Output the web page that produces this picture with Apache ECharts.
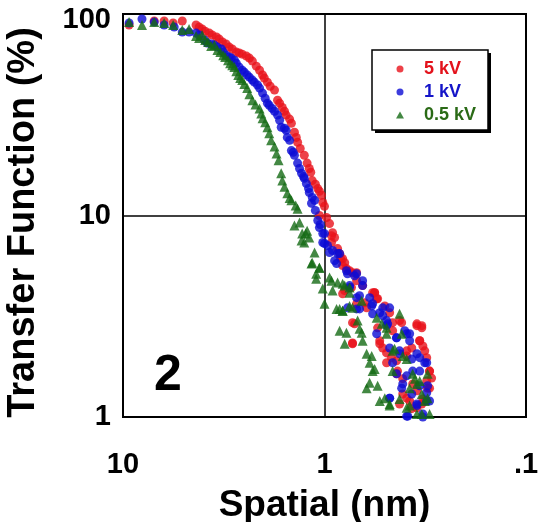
<!DOCTYPE html>
<html>
<head>
<meta charset="utf-8">
<script src="https://cdn.jsdelivr.net/npm/echarts@6/dist/echarts.min.js"></script>
<style>
html,body{margin:0;padding:0;background:#fff;}
#chart{width:541px;height:522px;}
</style>
</head>
<body>
<div id="chart"></div>
<script>
// ---- data (Spatial in nm, Transfer Function in %) ----
const seriesNames = ['5 kV', '1 kV', '0.5 kV'];
const xTickLabels = ['10', '1', '.1'];
const yTickLabels = ['1', '10', '100'];

const x5kV = [9.33,7.0,6.25,5.64,5.08,4.34,4.05,3.73,3.44,3.21,2.97,2.74,2.56,2.36,2.18,2.03,1.92,1.77,1.71,1.62,1.55,1.46,1.41,1.36,1.26,1.22,1.17,1.15,1.08,1.035,1.02,1.06,0.977,0.944,0.912,0.923,0.861,0.841,0.794,0.778,0.726,0.693,0.647,0.564,0.551,0.693,0.618,0.475,0.424,0.348,0.329,0.459,0.726,0.532,0.514,0.337,0.325,0.391,0.311,0.492,0.301,0.439,0.294,0.365,0.308,0.409,0.378,0.318,0.348,
  4.19,3.91,3.61,3.33,3.08,2.87,2.65,2.44,2.28,2.10,1.99,1.86,1.67,1.58,1.49,1.38,1.32,1.19,1.11,1.06,1.0,0.891,0.813,0.751,
  0.813,0.709,0.726,0.577,0.545,0.459,0.414,0.348,0.329,0.532,0.492,0.465,0.439,0.391,0.369,0.337,0.318,0.301,0.434,0.409,0.311,0.301,0.348,0.391,0.424,0.329,0.325,0.369,
  0.923,0.832,0.813,0.693,0.735,0.564,0.545,0.794,0.632,0.726,0.502];
const y5kV = [88.2,92.3,92.3,90.2,92.3,88.2,84.2,80.4,76.9,72.6,68.5,64.7,63.2,60.4,55.1,49.8,45.9,41.9,37.3,34.4,31.5,28.7,25.9,23.1,19.9,18.2,16.4,14.9,13.6,12.6,11.6,10.0,9.77,9.12,8.22,7.35,6.85,6.47,5.83,5.45,5.20,4.75,4.49,4.14,3.86,3.65,3.48,3.29,3.01,2.84,2.77,2.68,2.31,2.39,2.20,2.39,2.25,2.13,1.97,1.86,1.69,1.64,1.56,1.46,1.39,1.30,1.20,1.20,1.11,
  86.1,82.2,78.7,75.1,71.0,67.0,64.0,61.8,58.4,52.6,48.1,43.8,36.1,32.9,30.1,24.4,21.5,17.1,14.3,13.2,11.1,7.78,6.11,5.32,
  4.09,2.90,2.33,4.14,2.77,2.94,2.94,2.90,2.84,2.31,2.08,1.97,1.90,2.01,2.20,2.39,2.13,1.69,1.69,1.55,1.51,1.39,1.35,1.24,1.16,1.16,1.23,1.10,
  7.94,6.11,5.64,5.20,4.39,4.14,3.86,4.24,3.69,2.94,3.56];

const x1kV = [9.33,8.05,7.0,6.25,5.57,5.08,4.70,4.34,4.19,3.82,3.52,3.25,3.08,2.90,2.80,2.65,2.50,2.36,2.23,2.10,2.03,1.92,1.82,1.71,1.64,1.55,1.53,1.46,1.41,1.36,1.30,1.26,1.23,1.19,1.15,1.16,1.08,1.06,1.00,1.02,0.966,0.912,0.861,0.871,0.769,0.709,0.751,0.647,0.597,0.514,0.769,0.693,0.577,0.492,0.551,0.439,0.391,0.378,0.475,0.424,0.348,0.318,0.365,0.439,0.409,0.337,0.311,0.475,0.301,0.348,0.391,0.325,
  3.95,3.65,3.40,3.18,2.97,2.74,2.56,2.42,2.28,2.15,1.97,1.88,1.77,1.67,1.58,1.49,1.43,1.33,1.27,1.20,1.12,1.11,1.05,
  0.670,0.577,0.514,0.475,0.439,0.400,0.378,0.337,0.311,0.424,0.459,0.391,0.337,0.308,0.414,0.475,0.369,0.311,0.386,0.325,0.348,0.486,0.369,
  1.02,1.00,0.944,0.841,0.891,0.778,0.693,0.647,0.751,0.693,0.583,0.532,0.492,0.670];
const y1kV = [90.2,94.4,91.2,88.2,86.1,81.3,81.3,80.4,78.7,71.8,70.1,67.0,62.5,60.4,59.0,54.5,51.4,48.6,45.9,42.9,40.5,36.1,34.0,31.5,27.4,26.5,24.4,21.0,19.9,18.2,16.2,15.3,14.4,13.0,12.3,11.5,9.44,8.71,8.13,7.35,7.10,6.70,6.47,5.77,5.14,5.02,4.39,4.49,3.91,3.48,3.48,3.44,3.25,2.84,2.59,2.47,2.59,2.39,2.20,2.06,2.06,1.86,1.69,1.64,1.46,1.43,1.32,1.24,1.20,1.16,1.01,1.0,
  74.3,71.0,68.5,64.7,61.1,57.0,52.6,49.8,47.0,44.4,38.2,35.2,32.9,29.7,27.1,23.6,20.6,17.1,15.6,13.6,11.9,10.6,9.02,
  4.00,3.65,3.18,3.48,2.47,2.68,2.59,1.97,1.86,2.13,1.86,1.60,1.69,1.43,1.39,1.24,1.30,1.20,1.01,1.035,1.14,2.90,1.94,
  8.13,7.26,6.55,6.47,5.97,5.32,5.14,4.75,4.49,3.91,3.56,3.29,3.01,3.44];

const x05kV = [9.33,8.05,7.0,6.25,5.64,5.08,4.70,4.34,4.05,3.78,3.52,3.29,3.11,2.94,2.80,2.68,2.56,2.42,2.28,2.10,2.03,1.92,1.84,1.73,1.64,1.62,1.53,1.46,1.36,1.41,1.29,1.22,1.19,1.30,1.26,1.12,1.15,1.06,1.10,1.02,0.923,0.861,0.794,1.00,0.871,0.813,0.685,0.424,0.841,0.654,0.492,0.794,0.618,0.459,0.391,0.597,0.564,0.365,0.597,0.348,0.545,0.618,0.329,0.532,0.318,0.475,0.378,0.348,0.301,
  4.19,3.91,3.65,3.40,3.18,3.01,2.87,2.74,2.62,2.50,2.36,2.20,2.06,1.97,1.88,1.77,1.69,1.58,1.49,1.39,1.33,1.24,
  0.813,0.751,0.778,0.670,0.647,0.583,0.577,0.502,0.551,0.520,0.492,0.414,0.449,0.409,0.459,0.356,0.337,0.308,0.378,0.424,0.308,0.391,0.329,0.475,
  1.16,1.10,1.06,0.944,0.912,0.813,0.751,0.841,0.726,0.654,0.751];
const y05kV = [91.2,88.2,91.2,90.2,88.2,83.2,84.2,77.8,78.7,72.6,70.1,64.7,61.1,57.0,54.5,49.8,47.0,42.9,37.3,34.0,30.4,27.4,23.6,20.3,16.2,14.9,12.9,11.9,10.8,8.91,8.13,8.41,7.78,7.52,7.35,6.55,5.83,5.51,4.86,4.34,4.75,4.65,4.49,3.65,3.44,3.37,3.01,3.25,2.68,2.62,2.77,2.31,2.06,2.13,1.94,1.86,1.73,1.64,1.48,1.46,1.43,1.39,1.30,1.20,1.20,1.16,1.14,1.035,1.035,
  76.0,74.3,69.3,66.2,62.5,59.0,55.7,52.0,48.1,44.9,40.0,35.6,32.1,29.0,25.6,22.0,18.8,13.9,12.2,11.2,9.23,8.13,
  3.37,3.56,2.62,2.74,2.39,2.01,1.69,1.24,3.11,2.90,2.59,2.59,2.18,2.01,1.69,1.55,1.51,1.64,1.39,1.23,1.24,1.11,1.035,1.14,
  5.77,5.14,5.51,4.92,4.24,4.59,4.39,3.44,3.48,3.78,4.14];

const colors = ['#e8111a', '#0b0bd4', '#146a14'];
const legendTextColors = ['#e3121b', '#1414c8', '#2a6a16'];

function zip(xs, ys) { return xs.map((x, i) => [x, ys[i]]); }

const FONT = 'Liberation Sans, Arial, Helvetica, sans-serif';
const chart = echarts.init(document.getElementById('chart'), null, {renderer: 'canvas'});

chart.setOption({
  animation: false,
  backgroundColor: '#fff',
  grid: {
    left: 123, right: 15, top: 14, bottom: 105,
    outerBoundsMode: 'none', containLabel: false,
    show: true, borderColor: '#000', borderWidth: 2, backgroundColor: 'transparent'
  },
  xAxis: {
    type: 'log', logBase: 10, min: 0.1, max: 10, inverse: true,
    name: 'Spatial (nm)', nameLocation: 'middle', nameGap: 70,
    nameTextStyle: {fontFamily: FONT, fontWeight: 'bold', fontSize: 37, color: '#000'},
    axisLine: {show: true, lineStyle: {color: '#000', width: 2}},
    axisTick: {show: false},
    splitLine: {show: true, lineStyle: {color: '#000', width: 1.5}},
    axisLabel: {
      margin: 33, fontFamily: FONT, fontWeight: 'bold', fontSize: 29, color: '#000',
      formatter: function (v) {
        const e = Math.round(Math.log10(v));
        return xTickLabels[1 - e];
      }
    }
  },
  yAxis: {
    type: 'log', logBase: 10, min: 1, max: 100,
    name: 'Transfer Function (%)', nameLocation: 'middle', nameGap: 80, nameRotate: 90,
    nameTextStyle: {fontFamily: FONT, fontWeight: 'bold', fontSize: 38, color: '#000', padding: [0, 14, 0, 0]},
    axisLine: {show: true, lineStyle: {color: '#000', width: 2}},
    axisTick: {show: false},
    splitLine: {show: true, lineStyle: {color: '#000', width: 1.5}},
    axisLabel: {
      margin: 12, fontFamily: FONT, fontWeight: 'bold', fontSize: 29, color: '#000',
      formatter: function (v) {
        const e = Math.round(Math.log10(v));
        return e === 2 ? '{top|' + yTickLabels[e] + '}' : yTickLabels[e];
      },
      rich: {top: {fontFamily: FONT, fontWeight: 'bold', fontSize: 29, color: '#000', padding: [12, 0, 0, 0]}}
    }
  },
  legend: {
    orient: 'vertical', left: 372, top: 50, z: 10,
    padding: [10, 10, 8, 24],
    itemWidth: 8, itemHeight: 7, itemGap: 5,
    textStyle: {fontFamily: FONT, fontWeight: 'bold', fontSize: 18, padding: [0, 0, 0, 15]},
    data: seriesNames.map((n, i) => ({name: n, textStyle: {color: legendTextColors[i]}}))
  },
  graphic: [
    {type: 'rect', z: 5, shape: {x: 375, y: 53, width: 116, height: 80}, style: {fill: '#000'}},
    {type: 'rect', z: 6, shape: {x: 372, y: 50, width: 116, height: 80}, style: {fill: '#fff', stroke: '#000', lineWidth: 1.5}},
    {type: 'text', left: 154, top: 351, z: 6,
     style: {text: '2', fontFamily: FONT, fontWeight: 'bold', fontSize: 50, fill: '#000'}}
  ],
  series: [
    {name: seriesNames[0], type: 'scatter', symbol: 'circle', symbolSize: 9,
     itemStyle: {color: colors[0]}, data: zip(x5kV, y5kV)},
    {name: seriesNames[1], type: 'scatter', symbol: 'circle', symbolSize: 9,
     itemStyle: {color: colors[1]}, data: zip(x1kV, y1kV)},
    {name: seriesNames[2], type: 'scatter', symbol: 'triangle', symbolSize: 10,
     itemStyle: {color: colors[2]}, data: zip(x05kV, y05kV)}
  ]
});
</script>
</body>
</html>
